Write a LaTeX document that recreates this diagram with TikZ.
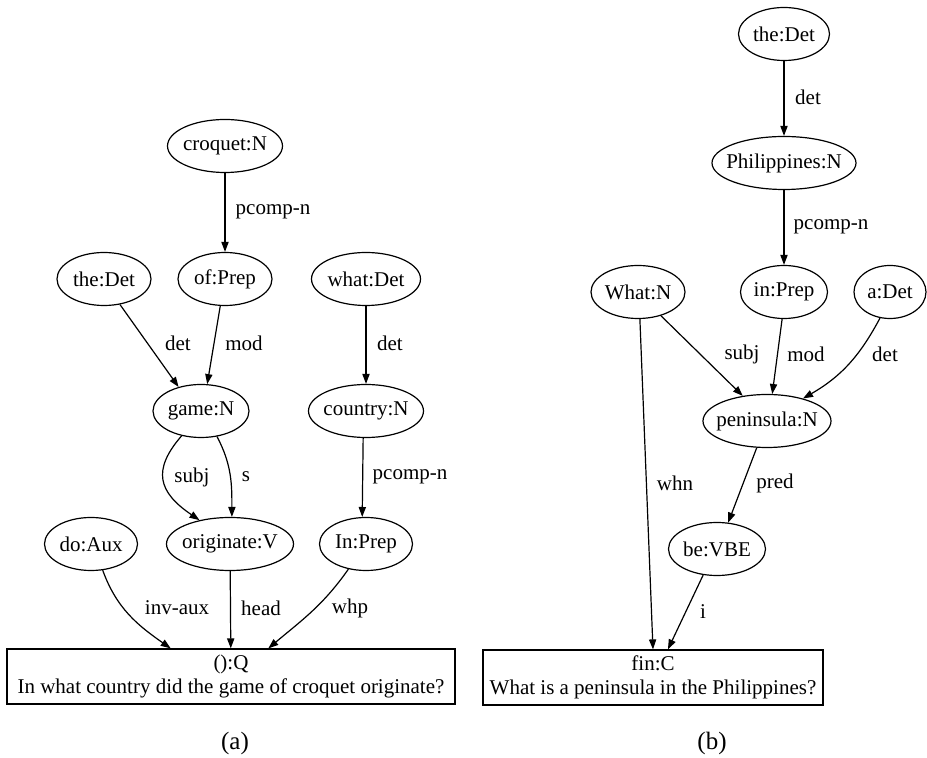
\documentclass[tikz,border=0pt]{standalone}
\usepackage{fontspec}
\setmainfont{Liberation Serif}
\usetikzlibrary{shapes.geometric,arrows.meta}

\begin{document}
\begin{tikzpicture}[x=0.5pt, y=-0.5pt, line width=0.6pt,
    >={Triangle[length=5pt,width=3.6pt]},
    every node/.style={font=\fontsize{10.5pt}{12pt}\selectfont},
    word/.style={draw, ellipse, inner xsep=-6pt, inner ysep=0pt, minimum height=26.5pt},
    root/.style={draw, rectangle, align=center, inner sep=0pt, minimum height=27.5pt},
    rel/.style={inner sep=0pt},
    caption/.style={font=\fontsize{12.5pt}{14pt}\selectfont}]
    \useasboundingbox (0,0) rectangle (927,758);

    % (a) In what country did the game of croquet originate?
    \node[word, minimum width=57.5pt] (croquet) at (225,146) {croquet:N};
    \node[word, minimum width=47pt] (theA) at (104,279) {the:Det};
    \node[word, minimum width=47pt] (ofp) at (225,279) {of:Prep};
    \node[word, minimum width=54.5pt] (whatA) at (366,279) {what:Det};
    \node[word, minimum width=48pt] (game) at (201,411) {game:N};
    \node[word, minimum width=57.5pt] (country) at (366,411) {country:N};
    \node[word, minimum width=46.5pt] (doA) at (91,544) {do:Aux};
    \node[word, minimum width=63.5pt] (orig) at (230,544) {originate:V};
    \node[word, minimum width=46.5pt] (inA) at (366,544) {In:Prep};
    \node[root, minimum width=224pt] (q) at (231,676.5) {():Q\\In what country did the game of croquet originate?};

    \draw[->] (croquet) -- (ofp) node[rel] at (273,212) {pcomp-n};
    \draw[->] (theA.-58) -- (game.133) node[rel] at (178,343) {det};
    \draw[->] (ofp.260) -- (game.77) node[rel] at (244,343) {mod};
    \draw[->] (whatA) -- (country) node[rel] at (390,343) {det};
    \draw[->] (game.232) .. controls (152,470) and (158,492) .. (orig.142) node[rel] at (192,477) {subj};
    \draw[->] (game.302) to[out=-62, in=90] (orig.86) node[rel] at (246,477) {s};
    \draw[->] (country.264) -- (inA.98) node[rel] at (410,477) {pcomp-n};
    \draw[->] (doA.-66) to[out=-70, in=145] (q.155) node[rel] at (177,608) {inv-aux};
    \draw[->] (orig) -- (q) node[rel] at (261,608) {head};
    \draw[->] (inA.235) to[out=235, in=40] (q.37) node[rel] at (350,608) {whp};

    \node[caption] (capA) at (235,743) {(a)};

    % (b) What is a peninsula in the Philippines?
    \node[word, minimum width=45.5pt] (theB) at (784,34) {the:Det};
    \node[word, minimum width=72pt] (phil) at (784,163) {Philippines:N};
    \node[word, minimum width=43.5pt] (inB) at (784,292) {in:Prep};
    \node[word, minimum width=47pt] (whatB) at (638,292) {What:N};
    \node[word, minimum width=36pt] (aDet) at (890,292) {a:Det};
    \node[word, minimum width=64pt] (pen) at (767,421) {peninsula:N};
    \node[word, minimum width=48.5pt] (be) at (717,549) {be:VBE};
    \node[root, minimum width=170pt] (fin) at (653,677.5) {fin:C\\What is a peninsula in the Philippines?};

    \draw[->] (theB) -- (phil) node[rel] at (808,97) {det};
    \draw[->] (phil) -- (inB) node[rel] at (831,227) {pcomp-n};
    \draw[->] (whatB.-46) -- (pen.134) node[rel] at (742,354) {subj};
    \draw[->] (inB.266) -- (pen.79) node[rel] at (806,354) {mod};
    \draw[->] (aDet.249) to[out=242, in=30] (pen.32) node[rel] at (885,354) {det};
    \draw[->] (whatB.-86) -- (fin.north) node[rel] at (675,483) {whn};
    \draw[->] (pen.249) -- (be.67) node[rel] at (775,483) {pred};
    \draw[->] (be.242) -- (fin.62) node[rel] at (703,612) {i};

    \node[caption] (capB) at (712,743) {(b)};
\end{tikzpicture}
\end{document}
